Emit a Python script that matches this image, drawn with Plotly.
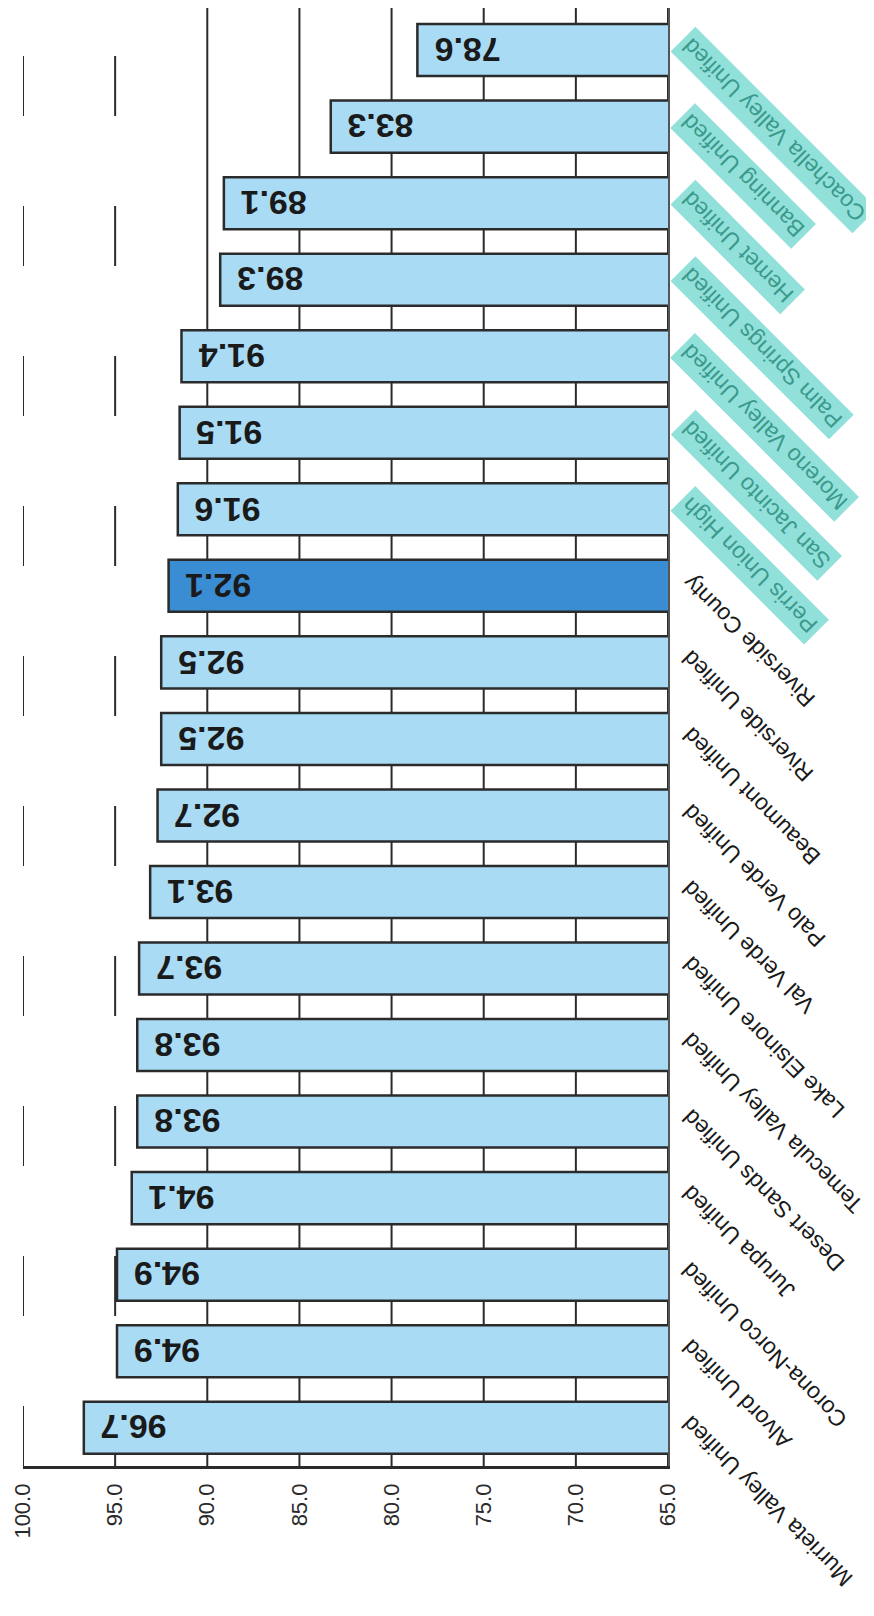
import plotly.graph_objects as go

districts = [
    "Coachella Valley Unified", "Banning Unified", "Hemet Unified",
    "Palm Springs Unified", "Moreno Valley Unified", "San Jacinto Unified",
    "Perris Union High", "Riverside County", "Riverside Unified",
    "Beaumont Unified", "Palo Verde Unified", "Val Verde Unified",
    "Lake Elsinore Unified", "Temecula Valley Unified", "Desert Sands Unified",
    "Jurupa Unified", "Corona-Norco Unified", "Alvord Unified",
    "Murrieta Valley Unified",
]
rates = [78.6, 83.3, 89.1, 89.3, 91.4, 91.5, 91.6, 92.1, 92.5, 92.5,
         92.7, 93.1, 93.7, 93.8, 93.8, 94.1, 94.9, 94.9, 96.7]
highlighted = ["Coachella Valley Unified", "Banning Unified", "Hemet Unified",
               "Palm Springs Unified", "Moreno Valley Unified",
               "San Jacinto Unified", "Perris Union High"]
county = "Riverside County"
tick_vals = [65, 70, 75, 80, 85, 90, 95, 100]
faded_grid = [95, 100]

LIGHT = "#a9dbf4"
DARK = "#3b8dd3"
GRID = "#2b2b2b"
colors = [DARK if d == county else LIGHT for d in districts]

fig = go.Figure()
fig.add_trace(go.Bar(
    x=rates, y=districts, orientation="h",
    marker=dict(color=colors, line=dict(color=GRID, width=2.5)),
    hoverinfo="skip", showlegend=False,
))

shapes = []
for t in tick_vals:
    faded = t in faded_grid
    shapes.append(dict(
        type="line", xref="x", yref="paper", x0=t, x1=t, y0=0, y1=1,
        layer="below",
        line=dict(color=GRID, width=2, dash="60px,90px" if faded else "solid"),
    ))

annotations = []
for d, v in zip(districts, rates):
    annotations.append(dict(
        x=v, y=d, xref="x", yref="y", text=f"{v:.1f}", showarrow=False,
        textangle=180, xanchor="left", yanchor="middle", xshift=15,
        font=dict(family="Liberation Sans, Arial", size=34,
                  color="#1a1a1a", weight="bold"),
    ))
    hl = d in highlighted
    annotations.append(dict(
        x=65, y=d, xref="x", yref="y", text=d, showarrow=False,
        textangle=-135, xanchor="left", yanchor="top", xshift=2, yshift=24,
        font=dict(family="Liberation Sans, Arial", size=23,
                  color="#3a9a8c" if hl else "#1a1a1a"),
        bgcolor="#92e0da" if hl else "rgba(0,0,0,0)", borderpad=4,
    ))

fig.update_layout(
    width=874, height=1616,
    margin=dict(l=15, r=214, t=0, b=158),
    paper_bgcolor="white", plot_bgcolor="white",
    bargap=0.32,
    annotations=annotations,
    shapes=shapes,
    xaxis=dict(
        range=[100, 65], tickvals=tick_vals,
        ticktext=[f"{t:.1f}" for t in tick_vals],
        tickangle=-90, showgrid=False,
        showline=True, linecolor=GRID, linewidth=2.5, zeroline=False,
        ticks="", ticklabelstandoff=6,
        tickfont=dict(family="Liberation Sans, Arial", size=22, color="#2a2a2a"),
    ),
    yaxis=dict(
        categoryorder="array", categoryarray=districts,
        range=[18.5, -0.55], side="right", showticklabels=False,
        showgrid=False, showline=True, linecolor="#555555", linewidth=2,
        zeroline=False, ticks="",
    ),
)

fig.write_html("out.html")
